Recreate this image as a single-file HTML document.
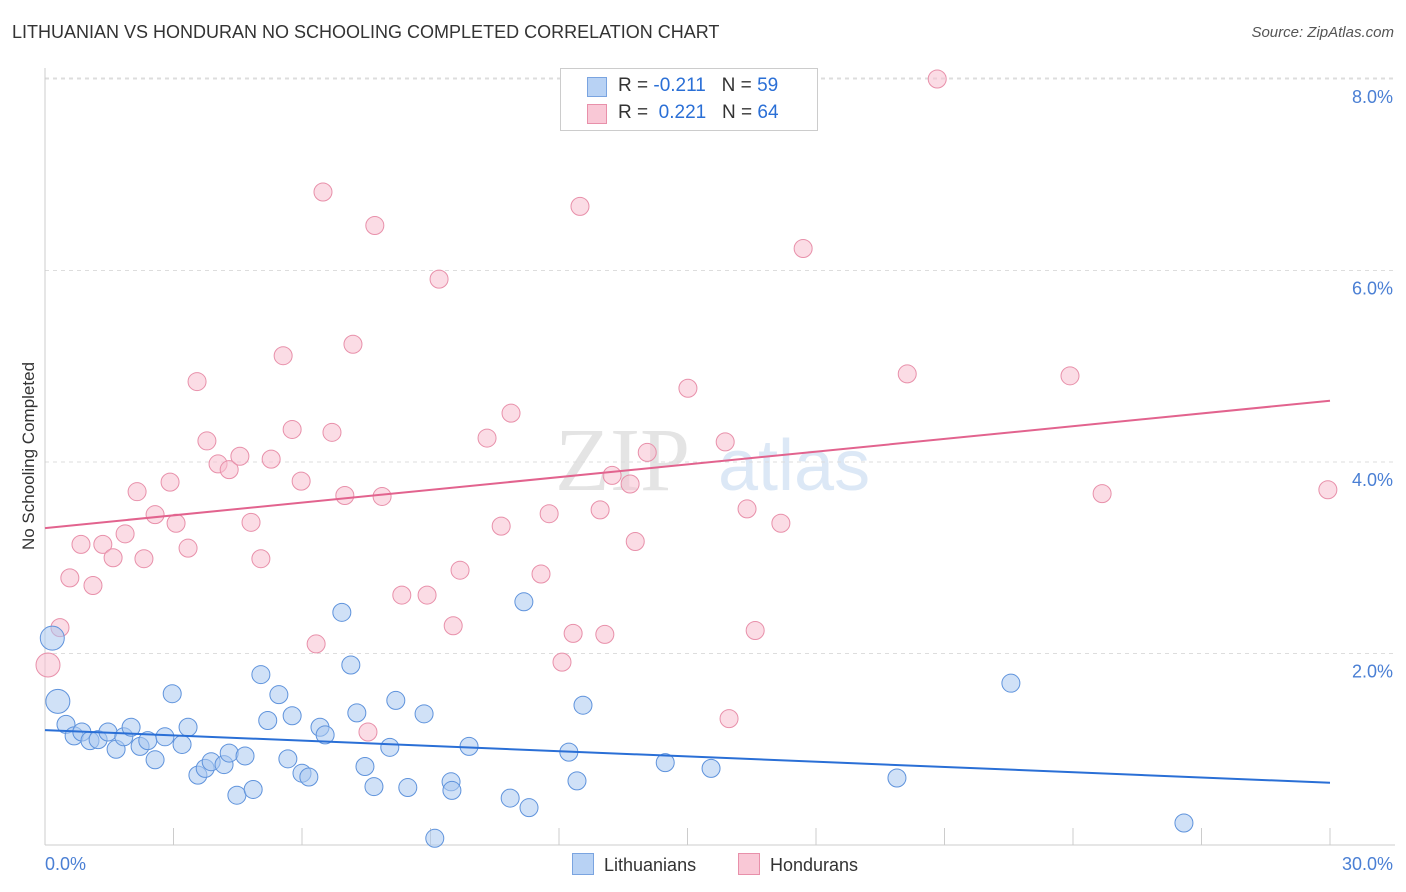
<!DOCTYPE html>
<html><head><meta charset="utf-8">
<style>
body{margin:0;background:#fff;font-family:"Liberation Sans",sans-serif;}
#wrap{position:relative;width:1406px;height:892px;overflow:hidden;}
.t{position:absolute;white-space:nowrap;}
</style></head><body>
<div id="wrap">
<div class="t" style="left:12px;top:22px;font-size:18px;color:#333;">LITHUANIAN VS HONDURAN NO SCHOOLING COMPLETED CORRELATION CHART</div>
<div class="t" style="right:12px;top:24px;font-size:15px;color:#555;font-style:italic;">Source: ZipAtlas.com</div>
<svg id="plot" width="1406" height="892" style="position:absolute;left:0;top:0"></svg>
</div>
<script>
const blueX=[0.17,0.3,0.49,0.68,0.86,1.05,1.24,1.47,1.66,1.84,2.01,2.22,2.4,2.57,2.8,2.97,3.2,3.34,3.57,3.74,3.88,4.18,4.3,4.48,4.67,4.86,5.04,5.2,5.46,5.67,5.77,6.0,6.16,6.42,6.54,6.93,7.14,7.28,7.47,7.68,8.05,8.19,8.47,8.85,9.1,9.48,9.5,9.9,10.86,11.18,11.3,12.23,12.42,12.56,14.48,15.55,19.89,22.55,26.59];
const blueY=[2.16,1.5,1.26,1.14,1.18,1.09,1.1,1.18,1.0,1.13,1.23,1.03,1.09,0.89,1.13,1.58,1.05,1.23,0.73,0.8,0.87,0.84,0.96,0.52,0.93,0.58,1.78,1.3,1.57,0.9,1.35,0.75,0.71,1.23,1.15,2.43,1.88,1.38,0.82,0.61,1.02,1.51,0.6,1.37,0.07,0.66,0.57,1.03,0.49,2.54,0.39,0.97,0.67,1.46,0.86,0.8,0.7,1.69,0.23];
const pinkX=[0.07,0.35,0.58,0.84,1.12,1.35,1.59,1.87,2.15,2.31,2.57,2.92,3.06,3.34,3.55,3.78,4.04,4.3,4.55,4.81,5.04,5.28,5.56,5.77,5.98,6.33,6.49,6.7,7.0,7.19,7.54,7.7,7.87,8.33,8.92,9.2,9.53,9.69,10.32,10.65,10.88,11.58,11.77,12.07,12.33,12.49,12.96,13.07,13.24,13.66,13.78,14.06,15.01,15.88,15.97,16.39,16.58,17.18,17.7,20.13,20.83,23.93,24.68,29.95];
const pinkY=[1.88,2.27,2.79,3.14,2.71,3.14,3.0,3.25,3.69,2.99,3.45,3.79,3.36,3.1,4.84,4.22,3.98,3.92,4.06,3.37,2.99,4.03,5.11,4.34,3.8,2.1,6.82,4.31,3.65,5.23,1.18,6.47,3.64,2.61,2.61,5.91,2.29,2.87,4.25,3.33,4.51,2.83,3.46,1.91,2.21,6.67,3.5,2.2,3.86,3.77,3.17,4.1,4.77,4.21,1.32,3.51,2.24,3.36,6.23,4.92,8.0,4.9,3.67,3.71];
const blueTrend=[1.20,0.65];
const pinkTrend=[3.31,4.64];
const yTicks=[2,4,6,8];
const xTickLabels=["0.0%","30.0%"];
const X0=45,X1=1330,Y0=845,PX=(X1-X0)/30,PY=95.75;
const sx=v=>X0+v*PX, sy=v=>Y0-v*PY;
const svg=document.getElementById('plot');
const NS='http://www.w3.org/2000/svg';
function mk(tag,attrs,txt){const e=document.createElementNS(NS,tag);for(const k in attrs)e.setAttribute(k,attrs[k]);if(txt!==undefined)e.textContent=txt;svg.appendChild(e);return e;}
const wm=mk('text',{x:555,y:490,'font-size':90,'font-family':'Liberation Serif, serif',fill:'#e4e4e4'},'ZIP');


const wm2=mk('text',{x:718,y:490,'font-size':72,'font-family':'Liberation Sans, sans-serif',fill:'#dce8f6'},'atlas');


const gridTop=mk('line',{x1:X0,x2:1395,y1:78,y2:78,stroke:'#ddd','stroke-dasharray':'4,4'});


yTicks.forEach(v=>{
 const g=mk('line',{x1:X0,x2:1395,y1:sy(v),y2:sy(v),stroke:'#ddd','stroke-dasharray':'4,4'});
 
 
 const t=mk('text',{x:1393,y:sy(v)+24,'text-anchor':'end','font-size':18,fill:'#4a7fd4'},v.toFixed(1)+'%');
 
 
});
const ax=mk('line',{x1:X0,x2:X0,y1:68,y2:Y0,stroke:'#ccc'});


const bx=mk('line',{x1:X0,x2:1395,y1:Y0,y2:Y0,stroke:'#ccc'});


for(let i=0;i<=10;i++){
 const tk=mk('line',{x1:sx(i*3),x2:sx(i*3),y1:828,y2:Y0,stroke:'#ccc'});
 
 
}
const xl0=mk('text',{x:45,y:870,'font-size':18,fill:'#4a7fd4'},xTickLabels[0]);


const xl1=mk('text',{x:1393,y:870,'text-anchor':'end','font-size':18,fill:'#4a7fd4'},xTickLabels[1]);


const yt=mk('text',{x:34,y:456,'font-size':17,fill:'#333','text-anchor':'middle',transform:'rotate(-90 34 456)'},'No Schooling Completed');


function pts(xs,ys,fill,stroke,name,bigCount){
 xs.forEach((x,i)=>{
  const r=i<bigCount?12:9;
  const c=mk('circle',{cx:sx(x),cy:sy(ys[i]),r:r,fill:fill,stroke:stroke,'stroke-width':1,'fill-opacity':0.55});
  
  
 });
}
pts(pinkX,pinkY,'#f7c0d0','#e890aa','honduran-point',1);
pts(blueX,blueY,'#aac8f0','#5f93dc','lithuanian-point',2);
const bl=mk('line',{x1:sx(0),y1:sy(blueTrend[0]),x2:sx(30),y2:sy(blueTrend[1]),stroke:'#2a6fd6','stroke-width':2});


const pl=mk('line',{x1:sx(0),y1:sy(pinkTrend[0]),x2:sx(30),y2:sy(pinkTrend[1]),stroke:'#e2638e','stroke-width':2});


</script>
<div class="t" style="left:560px;top:68px;width:256px;height:61px;border:1px solid #ccc;background:#fff;font-size:19px;">
 <div style="position:absolute;left:26px;top:8px;width:18px;height:18px;background:#b8d2f4;border:1px solid #7aa4e0"></div>
 <div style="position:absolute;left:57px;top:6px;color:#333">R = <span style="color:#2a6fd6">-0.211</span>&nbsp;&nbsp;&nbsp;N = <span style="color:#2a6fd6">59</span></div>
 <div style="position:absolute;left:26px;top:35px;width:18px;height:18px;background:#f9c8d6;border:1px solid #e890aa"></div>
 <div style="position:absolute;left:57px;top:33px;color:#333">R = &nbsp;<span style="color:#2a6fd6">0.221</span>&nbsp;&nbsp;&nbsp;N = <span style="color:#2a6fd6">64</span></div>
</div>
<div class="t" style="left:572px;top:853px;font-size:18px;color:#333"><span style="display:inline-block;width:20px;height:20px;background:#b8d2f4;border:1px solid #7aa4e0;vertical-align:-4px;margin-right:10px"></span>Lithuanians</div>
<div class="t" style="left:738px;top:853px;font-size:18px;color:#333"><span style="display:inline-block;width:20px;height:20px;background:#f9c8d6;border:1px solid #e890aa;vertical-align:-4px;margin-right:10px"></span>Hondurans</div>
</body></html>
